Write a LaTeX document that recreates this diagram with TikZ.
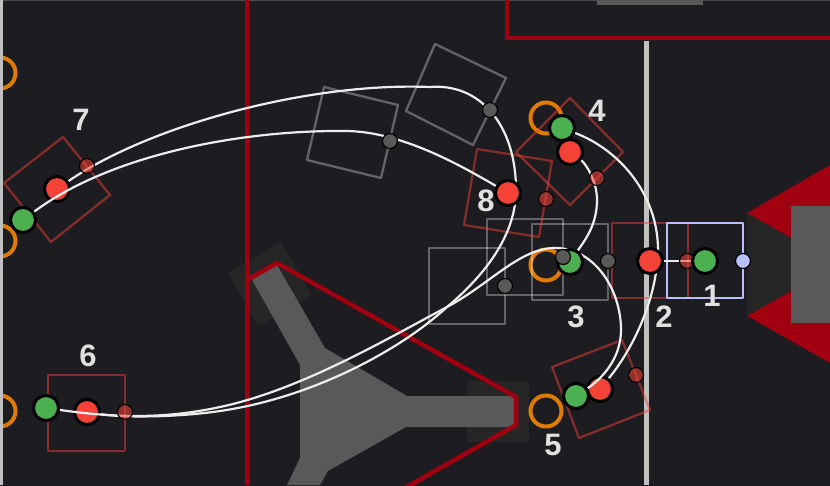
\documentclass[tikz,border=0pt]{standalone}
\usepackage{fontspec}
\setmainfont{Liberation Sans}
\pgfdeclarelayer{arena}\pgfdeclarelayer{squares}\pgfdeclarelayer{curvesA}\pgfdeclarelayer{nodesA}\pgfdeclarelayer{curvesB}\pgfdeclarelayer{nodesB}\pgfdeclarelayer{nodesC}
\pgfsetlayers{arena,squares,curvesA,nodesA,curvesB,nodesB,nodesC,main}
\definecolor{bgc}{HTML}{1C1C21}
\definecolor{wall}{HTML}{A00010}
\definecolor{goalgray}{HTML}{595959}
\definecolor{darkzone}{HTML}{262626}
\definecolor{rail}{HTML}{C0C0C0}
\definecolor{ringc}{HTML}{E07B00}
\definecolor{redc}{HTML}{F44336}
\definecolor{greenc}{HTML}{4CAF50}
\definecolor{bluec}{HTML}{B8C0FF}
\tikzset{
  bigdot/.style={circle,draw=black,line width=3pt,minimum size=25pt,inner sep=0pt},
  reddot/.style={bigdot,fill=redc},
  greendot/.style={bigdot,fill=greenc},
  smalldot/.style={circle,draw=black,line width=1.2pt,minimum size=15pt,inner sep=0pt},
  graydot/.style={smalldot,fill=goalgray},
  ghostdot/.style={smalldot,fill=redc,fill opacity=.55},
  bluedot/.style={smalldot,fill=bluec},
  redsq/.style={draw=redc,draw opacity=.48,line width=2.3pt,line join=round},
  graysq/.style={draw=white,draw opacity=.32,line width=2.3pt,line join=round},
  bluesq/.style={draw=bluec,line width=2.3pt,line join=round},
  ringm/.style={draw=ringc,line width=4pt,fill=none},
  wallline/.style={draw=wall,line width=4.5pt,line join=miter},
  pathline/.style={draw=white!93!black,line width=2.2pt},
  numlabel/.style={text=white!88!black,font=\bfseries\fontsize{31pt}{31pt}\selectfont,inner sep=0pt}
}
\begin{document}
\begin{tikzpicture}[x=1pt,y=-1pt]
\useasboundingbox (0,0) rectangle (830,485);
\begin{pgfonlayer}{arena}
\fill[bgc] (-2,-2) rectangle (832,487);
\fill[white!20!bgc] (0,0) rectangle (830,1);
% goal surrounds
\fill[darkzone] (228,273) -- (281,242) -- (311,295) -- (258,326) -- cycle;
\fill[darkzone] (467,381) rectangle (529,442);
% goals
\fill[goalgray] (251,278) -- (277,265) -- (325,348) -- (407,396) -- (515,396) -- (515,427) -- (406,427) -- (328,471) -- (320,485) -- (287,485) -- (300,458) -- (300,365) -- cycle;
\fill[wall] (747,213) -- (830,165) -- (830,270) -- cycle;
\fill[wall] (747,316) -- (830,363) -- (830,260) -- cycle;
\fill[darkzone] (747,213) -- (791,238) -- (791,291) -- (747,316) -- cycle;
\fill[goalgray] (791,206) rectangle (830,323);
\fill[goalgray] (597,0) rectangle (703,5);
% walls
\draw[wallline] (247,0) -- (247,485);
\draw[wallline] (247,280) -- (277,263) -- (516,397) -- (516,425) -- (405,488);
\draw[wallline] (507,0) -- (507,38) -- (830,38);
% rails
\fill[rail] (643.5,41) rectangle (649,485);
% rings
\begin{scope}
\clip (0,0) rectangle (830,485);
\draw[ringm] (0,73) circle (15.5);
\draw[ringm] (0,241) circle (15.5);
\draw[ringm] (0,411) circle (15.5);
\end{scope}
\draw[ringm] (546,118) circle (15.5);
\draw[ringm] (546,265) circle (15.5);
\draw[ringm] (546,411) circle (15.5);
\fill[rail] (0,0) rectangle (3,485);
\end{pgfonlayer}
\begin{pgfonlayer}{squares}
\draw[graysq] (324,87) -- (398,105) -- (381,178) -- (307,160) -- cycle;
\draw[graysq] (435,44) -- (506,78) -- (473,145) -- (406,111) -- cycle;
\draw[graysq] (487,219) rectangle (563,295);
\draw[graysq] (429,248) rectangle (505,324);
\draw[graysq] (532,224) rectangle (608,300);
\draw[redsq] (612,223) rectangle (688,298);
\draw[redsq] (477,149) -- (552,161) -- (539,237) -- (464,225) -- cycle;
\draw[redsq] (570,98) -- (623,152) -- (570,205) -- (516,152) -- cycle;
\draw[redsq] (552,367) -- (622,340) -- (650,410) -- (579,438) -- cycle;
\draw[redsq] (48,375) rectangle (125,451);
\draw[redsq] (63,137) -- (110,195) -- (51,242) -- (4,183) -- cycle;
\draw[bluesq] (667,223) rectangle (743,298);
\end{pgfonlayer}
\begin{pgfonlayer}{nodesA}
\node[reddot] (r7) at (57,189) {};
\node[reddot] (r6) at (87,412) {};
\node[reddot] (r5) at (600,389) {};
\end{pgfonlayer}
\begin{pgfonlayer}{nodesB}
\node[ghostdot] (s2) at (687,261) {};
\node[ghostdot] (s4) at (597,178) {};
\node[ghostdot] (s5) at (636,375) {};
\node[ghostdot] (s6) at (125,412) {};
\node[ghostdot] (s7) at (87,166) {};
\node[ghostdot] (s8) at (546,199) {};
\node[reddot] (r2) at (650,261) {};
\node[reddot] (r4) at (570,152) {};
\node[reddot] (r8) at (508,193) {};
\node[greendot] (g1) at (705,261) {};
\node[greendot] (g3) at (570,262) {};
\node[greendot] (g4) at (562,128) {};
\node[greendot] (g5) at (576,396) {};
\node[greendot] (g6) at (46,408) {};
\node[greendot] (g7) at (23,220) {};
\end{pgfonlayer}
\begin{pgfonlayer}{nodesC}
\node[bluedot] (b1) at (743,261) {};
\node[graydot] (k1) at (390,141) {};
\node[graydot] (k2) at (490,110) {};
\node[graydot] (k3) at (563,257) {};
\node[graydot] (k4) at (505,286) {};
\node[graydot] (k5) at (608,261) {};
\node[numlabel] (n1) at (712,296) {1};
\node[numlabel] (n2) at (664,317) {2};
\node[numlabel] (n3) at (576,317) {3};
\node[numlabel] (n4) at (597,111) {4};
\node[numlabel] (n5) at (553,445) {5};
\node[numlabel] (n6) at (88,356) {6};
\node[numlabel] (n7) at (81,120) {7};
\node[numlabel] (n8) at (486,201) {8};
\end{pgfonlayer}
\begin{pgfonlayer}{curvesA}
\draw[pathline] (r7) .. controls (150,125) and (310,82) .. (430,87)
  .. controls (480,83) and (516,125) .. (516,190)
  .. controls (516,235) and (485,275) .. (447,307)
  .. controls (398,352) and (310,398) .. (220,411)
  .. controls (180,417) and (125,418) .. (r6);
\draw[pathline] (r2) -- (g1);
\draw[pathline] (r4) .. controls (585,163) and (597,180) .. (597,200)
  .. controls (597,225) and (585,240) .. (g3);
\end{pgfonlayer}
\begin{pgfonlayer}{curvesB}
\draw[pathline] (g6) .. controls (110,417) and (160,420) .. (220,407)
  .. controls (300,390) and (385,340) .. (447,307)
  .. controls (490,284) and (520,248) .. (555,248)
  .. controls (595,248) and (621,290) .. (621,330)
  .. controls (621,360) and (600,380) .. (g5);
\draw[pathline] (g7) .. controls (110,155) and (240,130) .. (345,131)
  .. controls (400,131) and (460,165) .. (r8);
\draw[pathline] (g4) .. controls (620,150) and (658,195) .. (658,250)
  .. controls (657,300) and (632,350) .. (r5);
\end{pgfonlayer}
\end{tikzpicture}
\end{document}
